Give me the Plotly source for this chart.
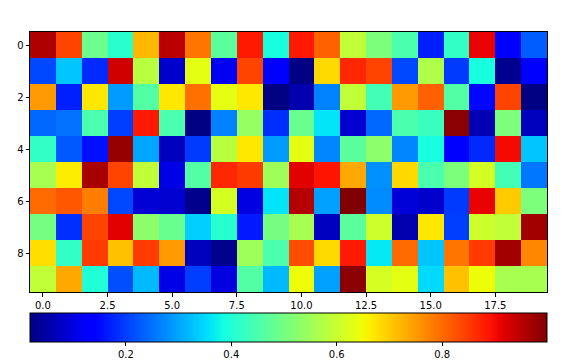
import numpy as np
import plotly.graph_objects as go

row0 = [0.96, 0.84, 0.49, 0.41, 0.72, 0.95, 0.79, 0.47, 0.885, 0.39, 0.885, 0.81, 0.59, 0.51, 0.45, 0.17, 0.42, 0.91, 0.13, 0.23]
row1 = [0.21, 0.33, 0.18, 0.93, 0.58, 0.083, 0.635, 0.116, 0.84, 0.13, 0.02, 0.685, 0.87, 0.84, 0.21, 0.57, 0.195, 0.39, 0.03, 0.13]
row2 = [0.75, 0.17, 0.67, 0.29, 0.46, 0.67, 0.795, 0.635, 0.67, 0.02, 0.057, 0.265, 0.59, 0.44, 0.75, 0.81, 0.46, 0.145, 0.84, 0.02]
row3 = [0.24, 0.25, 0.45, 0.20, 0.885, 0.45, 0.02, 0.265, 0.54, 0.185, 0.485, 0.36, 0.087, 0.24, 0.45, 0.43, 0.99, 0.062, 0.51, 0.072]
row4 = [0.42, 0.225, 0.155, 0.98, 0.30, 0.072, 0.195, 0.58, 0.67, 0.29, 0.635, 0.27, 0.47, 0.53, 0.27, 0.39, 0.13, 0.18, 0.90, 0.33]
row5 = [0.56, 0.665, 0.965, 0.84, 0.59, 0.106, 0.46, 0.87, 0.85, 0.55, 0.916, 0.89, 0.735, 0.28, 0.685, 0.45, 0.51, 0.615, 0.44, 0.255]
row6 = [0.80, 0.82, 0.78, 0.21, 0.09, 0.087, 0.028, 0.615, 0.10, 0.36, 0.955, 0.295, 0.999, 0.275, 0.094, 0.083, 0.195, 0.91, 0.70, 0.51]
row7 = [0.50, 0.185, 0.84, 0.916, 0.53, 0.485, 0.34, 0.41, 0.165, 0.50, 0.56, 0.072, 0.47, 0.605, 0.057, 0.67, 0.20, 0.605, 0.59, 0.97]
row8 = [0.68, 0.42, 0.85, 0.71, 0.85, 0.75, 0.072, 0.028, 0.55, 0.45, 0.83, 0.685, 0.885, 0.365, 0.80, 0.33, 0.79, 0.85, 0.97, 0.77]
row9 = [0.59, 0.735, 0.40, 0.215, 0.32, 0.106, 0.20, 0.10, 0.46, 0.32, 0.645, 0.295, 0.99, 0.615, 0.635, 0.35, 0.71, 0.645, 0.56, 0.56]

z = [row0, row1, row2, row3, row4, row5, row6, row7, row8, row9]
x_ticks = [0.0, 2.5, 5.0, 7.5, 10.0, 12.5, 15.0, 17.5]
y_ticks = [0, 2, 4, 6, 8]
cbar_ticks = [0.2, 0.4, 0.6, 0.8]
zmin, zmax = 0.018, 0.999

# matplotlib jet colormap
def jet_scale(n=65):
    t = np.linspace(0, 1, n)
    r = np.interp(t, [0, 0.35, 0.66, 0.89, 1], [0, 0, 1, 1, 0.5])
    g = np.interp(t, [0, 0.125, 0.375, 0.64, 0.91, 1], [0, 0, 1, 1, 0, 0])
    b = np.interp(t, [0, 0.11, 0.34, 0.65, 1], [0.5, 1, 1, 0, 0])
    return [[float(tt), f"rgb({int(round(rr*255))},{int(round(gg*255))},{int(round(bb*255))})"]
            for tt, rr, gg, bb in zip(t, r, g, b)]

fig = go.Figure(go.Heatmap(
    z=z, colorscale=jet_scale(), zmin=zmin, zmax=zmax,
    colorbar=dict(
        orientation="h", x=0, xanchor="left", y=-21/260, yanchor="top",
        lenmode="pixels", len=517, thickness=29, xpad=0, ypad=0,
        outlinewidth=1, outlinecolor="black",
        tickvals=cbar_ticks, ticktext=[f"{v:.1f}" for v in cbar_ticks],
        ticks="outside", ticklen=3.5, tickwidth=0.8, tickcolor="black",
        tickfont=dict(family="DejaVu Sans", size=10, color="black"),
    ),
))

axis_common = dict(showline=True, mirror=True, linecolor="black", linewidth=1,
                   ticks="outside", ticklen=3.5, tickwidth=0.8, tickcolor="black",
                   showgrid=False, zeroline=False, automargin=False,
                   tickfont=dict(family="DejaVu Sans", size=10, color="black"))

fig.update_layout(
    width=576, height=360,
    margin=dict(l=30, r=29, t=32, b=68, autoexpand=False),
    paper_bgcolor="white", plot_bgcolor="white",
    xaxis=dict(range=[-0.5, 19.5], tickvals=x_ticks,
               ticktext=[f"{v:.1f}" for v in x_ticks], **axis_common),
    yaxis=dict(range=[9.5, -0.5], tickvals=y_ticks,
               ticktext=[str(v) for v in y_ticks], **axis_common),
)

fig.write_html("out.html", config={"displayModeBar": False},
               post_script="document.body.style.margin='0';document.body.style.padding='0';document.body.style.overflow='hidden';")
